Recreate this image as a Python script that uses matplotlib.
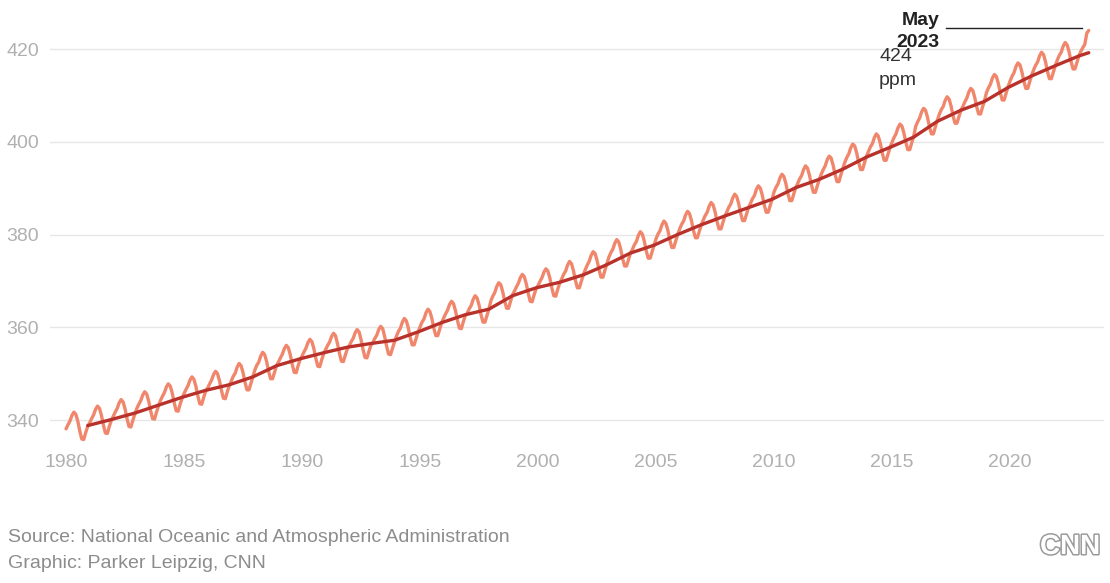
import numpy as np
import matplotlib
matplotlib.use("Agg")
import matplotlib.pyplot as plt
import matplotlib.patheffects as pe

# monthly CO2 at Mauna Loa, ppm (Jan 1980 .. May 2023), one row per year
monthly_co2 = [
    [338.1, 339.0, 339.8, 341.0, 341.7, 341.2, 339.7, 337.6, 335.9, 335.8, 337.3, 338.6],  # 1980
    [339.4, 340.3, 341.1, 342.3, 343.0, 342.5, 341.0, 338.9, 337.2, 337.1, 338.6, 339.9],
    [340.8, 341.7, 342.5, 343.7, 344.4, 343.9, 342.4, 340.3, 338.6, 338.5, 340.0, 341.3],
    [342.5, 343.4, 344.2, 345.4, 346.1, 345.6, 344.1, 342.0, 340.3, 340.2, 341.7, 343.0],
    [344.2, 345.1, 345.9, 347.1, 347.8, 347.3, 345.8, 343.7, 342.0, 341.9, 343.4, 344.7],
    [345.7, 346.6, 347.4, 348.6, 349.3, 348.8, 347.3, 345.2, 343.5, 343.4, 344.9, 346.2],  # 1985
    [346.9, 347.8, 348.6, 349.8, 350.5, 350.0, 348.5, 346.4, 344.7, 344.6, 346.1, 347.4],
    [348.4, 349.4, 350.1, 351.4, 352.2, 351.7, 350.2, 348.1, 346.5, 346.5, 347.9, 349.3],
    [350.8, 351.8, 352.5, 353.8, 354.6, 354.1, 352.6, 350.5, 348.9, 348.9, 350.3, 351.7],
    [352.5, 353.4, 354.2, 355.4, 356.1, 355.6, 354.1, 352.0, 350.3, 350.2, 351.7, 353.0],
    [353.8, 354.7, 355.5, 356.7, 357.4, 356.9, 355.4, 353.3, 351.6, 351.5, 353.0, 354.3],  # 1990
    [355.2, 356.1, 356.8, 358.0, 358.7, 358.2, 356.5, 354.4, 352.7, 352.6, 354.0, 355.3],
    [356.0, 356.9, 357.6, 358.8, 359.5, 359.0, 357.3, 355.2, 353.5, 353.4, 354.8, 356.1],
    [356.7, 357.6, 358.3, 359.5, 360.2, 359.7, 358.0, 355.9, 354.2, 354.1, 355.5, 356.8],
    [358.1, 359.1, 359.8, 361.1, 361.9, 361.4, 359.9, 357.8, 356.2, 356.2, 357.6, 359.0],
    [360.1, 361.1, 361.8, 363.1, 363.9, 363.4, 361.9, 359.8, 358.2, 358.2, 359.6, 361.0],  # 1995
    [362.0, 362.9, 363.7, 364.9, 365.6, 365.1, 363.6, 361.5, 359.8, 359.7, 361.2, 362.5],
    [363.0, 364.0, 364.7, 366.0, 366.8, 366.3, 364.8, 362.7, 361.1, 361.1, 362.5, 363.9],
    [365.7, 366.7, 367.5, 368.8, 369.6, 369.2, 367.7, 365.7, 364.1, 364.1, 365.6, 367.0],
    [367.8, 368.7, 369.5, 370.7, 371.4, 370.9, 369.4, 367.3, 365.6, 365.5, 367.0, 368.3],
    [369.0, 369.9, 370.7, 371.9, 372.6, 372.1, 370.6, 368.5, 366.8, 366.7, 368.2, 369.5],  # 2000
    [370.4, 371.4, 372.1, 373.4, 374.2, 373.7, 372.2, 370.1, 368.5, 368.5, 369.9, 371.3],
    [372.4, 373.4, 374.2, 375.5, 376.3, 375.9, 374.4, 372.4, 370.8, 370.8, 372.3, 373.7],
    [375.1, 376.1, 376.8, 378.1, 378.9, 378.4, 376.9, 374.8, 373.2, 373.2, 374.6, 376.0],
    [376.8, 377.8, 378.5, 379.8, 380.6, 380.1, 378.6, 376.5, 374.9, 374.9, 376.3, 377.7],
    [379.1, 380.1, 380.8, 382.1, 382.9, 382.4, 380.9, 378.8, 377.2, 377.2, 378.6, 380.0],  # 2005
    [381.2, 382.2, 382.9, 384.2, 385.0, 384.5, 383.0, 380.9, 379.3, 379.3, 380.7, 382.1],
    [383.1, 384.1, 384.8, 386.1, 386.9, 386.4, 384.9, 382.8, 381.2, 381.2, 382.6, 384.0],
    [384.9, 385.9, 386.6, 387.9, 388.7, 388.2, 386.7, 384.6, 383.0, 383.0, 384.4, 385.8],
    [386.7, 387.7, 388.4, 389.7, 390.5, 390.0, 388.5, 386.4, 384.8, 384.8, 386.2, 387.6],
    [389.2, 390.2, 390.9, 392.2, 393.0, 392.5, 391.0, 388.9, 387.3, 387.3, 388.7, 390.1],  # 2010
    [391.0, 392.0, 392.7, 394.0, 394.8, 394.3, 392.8, 390.7, 389.1, 389.1, 390.5, 391.9],
    [393.0, 394.0, 394.8, 396.1, 396.9, 396.5, 395.0, 393.0, 391.4, 391.4, 392.9, 394.3],
    [395.6, 396.6, 397.4, 398.7, 399.5, 399.1, 397.6, 395.6, 394.0, 394.0, 395.5, 396.9],
    [397.9, 398.9, 399.6, 400.9, 401.7, 401.2, 399.7, 397.6, 396.0, 396.0, 397.4, 398.8],
    [399.9, 400.9, 401.7, 403.0, 403.8, 403.4, 401.9, 399.9, 398.3, 398.3, 399.8, 401.2],  # 2015
    [403.3, 404.3, 405.1, 406.4, 407.2, 406.8, 405.3, 403.3, 401.7, 401.7, 403.2, 404.6],
    [405.9, 406.9, 407.6, 408.9, 409.7, 409.2, 407.7, 405.6, 404.0, 404.0, 405.4, 406.8],
    [407.6, 408.6, 409.4, 410.7, 411.5, 411.1, 409.6, 407.6, 406.0, 406.0, 407.5, 408.9],
    [410.6, 411.6, 412.4, 413.7, 414.5, 414.1, 412.6, 410.6, 409.0, 409.0, 410.5, 411.9],
    [413.1, 414.1, 414.9, 416.2, 417.0, 416.6, 415.1, 413.1, 411.5, 411.5, 413.0, 414.4],  # 2020
    [415.5, 416.5, 417.2, 418.5, 419.3, 418.8, 417.3, 415.2, 413.6, 413.6, 415.0, 416.4],
    [417.6, 418.6, 419.3, 420.6, 421.4, 420.9, 419.4, 417.3, 415.7, 415.7, 417.1, 418.5],
    [419.5, 420.3, 421.0, 423.4, 424.0],  # 2023
]
start_year = 1980

# 12-month average (value at each December), last point = May 2023
trend_years = list(range(1980, 2023))
trend_co2 = [338.8, 340.1, 341.5, 343.2, 344.9, 346.4, 347.6, 349.3, 351.7, 353.2,
             354.5, 355.7, 356.5, 357.2, 359.0, 361.0, 362.7, 363.9, 366.8, 368.5,
             369.7, 371.3, 373.5, 376.0, 377.7, 380.0, 382.1, 384.0, 385.8, 387.6,
             390.1, 391.9, 394.1, 396.7, 398.8, 401.0, 404.4, 406.8, 408.7, 411.7,
             414.2, 416.4, 418.5]
trend_last = 419.2

x_ticks = [1980, 1985, 1990, 1995, 2000, 2005, 2010, 2015, 2020]
y_ticks = [340, 360, 380, 400, 420]

# build x positions (decimal years)
vals = []
xs = []
for i, row in enumerate(monthly_co2):
    for m, v in enumerate(row):
        xs.append(start_year + i + m / 12)
        vals.append(v)
xs = np.array(xs)
vals = np.array(vals)

tx = [y + 11 / 12 for y in trend_years] + [xs[-1]]
ty = trend_co2 + [trend_last]

plt.rcParams['font.family'] = ['Liberation Sans', 'DejaVu Sans']

fig = plt.figure(figsize=(11.1, 5.83), dpi=100)
ax = fig.add_axes([50 / 1110, 143 / 583, 1054 / 1110, 412 / 583])

ax.plot(xs, vals, color='#f0876c', lw=2.4, solid_capstyle='round', clip_on=False, zorder=3)
ax.plot(tx, ty, color='#b8312b', lw=2.4, solid_capstyle='round', clip_on=False, zorder=4)

ax.set_xlim(1979.32, 2023.98)
ax.set_ylim(335.69, 424.53)
ax.set_xticks(x_ticks)
ax.set_yticks(y_ticks)
ax.grid(axis='y', color='#e6e6e6', lw=1)
ax.set_axisbelow(True)
for s in ax.spines.values():
    s.set_visible(False)
ax.tick_params(length=0, labelsize=14, labelcolor='#b0b0b0')
ax.tick_params(axis='y', pad=8)
ax.tick_params(axis='x', pad=10)

# annotation for the latest value
ax.text(2017.0, 426.2, 'May', ha='right', va='center', fontsize=14,
        fontweight='bold', color='#222222', clip_on=False)
ax.text(2017.0, 421.4, '2023', ha='right', va='center', fontsize=14,
        fontweight='bold', color='#222222', clip_on=False)
ax.plot([2017.29, 2023.05], [424.5, 424.5], color='#222222', lw=1, clip_on=False)
ax.text(2014.45, 418.3, '424', ha='left', va='center', fontsize=14,
        color='#333333', clip_on=False)
ax.text(2014.45, 413.3, 'ppm', ha='left', va='center', fontsize=14,
        color='#333333', clip_on=False)

fig.text(8 / 1110, 1 - 537 / 583, 'Source: National Oceanic and Atmospheric Administration',
         ha='left', va='center', fontsize=14, color='#8c8c8c')
fig.text(8 / 1110, 1 - 563 / 583, 'Graphic: Parker Leipzig, CNN',
         ha='left', va='center', fontsize=14, color='#8c8c8c')
fig.text(1100 / 1110, 1 - 547 / 583, 'CNN', ha='right', va='center', fontsize=20,
         fontweight='bold', color='white',
         path_effects=[pe.Stroke(linewidth=2.2, foreground='#9a9a9a'), pe.Normal()])

fig.savefig('out.png', dpi=100)
